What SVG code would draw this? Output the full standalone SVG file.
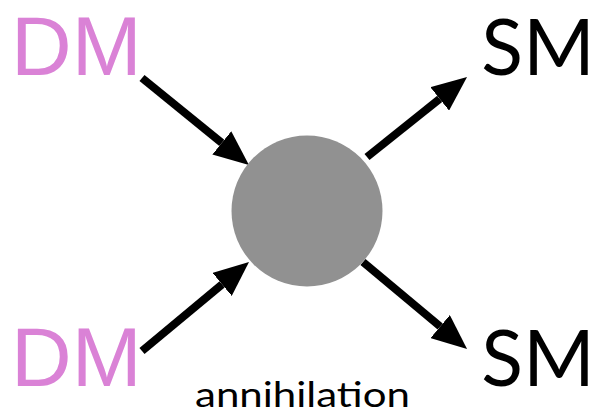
<svg xmlns="http://www.w3.org/2000/svg" width="594" height="419" viewBox="0 0 594 419">
  <style>
    .dm { font-family: "Liberation Sans", Arial, sans-serif; font-size: 84px; fill: #DA82D6; }
    .sm { font-family: "Lato", "Open Sans", sans-serif; font-size: 77px; fill: #000; }
    .lbl { font-family: "Lato", "Open Sans", sans-serif; font-size: 34px; fill: #000; }
    .conn { stroke: #000; stroke-width: 8; fill: none; marker-end: url(#head); }
  </style>
  <defs>
    <marker id="head" viewBox="0 0 35 30" refX="0" refY="15" markerWidth="35" markerHeight="30" markerUnits="userSpaceOnUse" orient="auto">
      <path d="M0,0 L35,15 L0,30 z" fill="#000"/>
    </marker>
  </defs>
  <rect width="594" height="419" fill="#fff"/>
  <g id="connectors">
    <line class="conn" x1="142" y1="78" x2="221.8" y2="142.9"/>
    <line class="conn" x1="367" y1="157" x2="439.7" y2="98.9"/>
    <line class="conn" x1="142" y1="351" x2="222.1" y2="284.4"/>
    <line class="conn" x1="363" y1="262" x2="440.2" y2="326.5"/>
  </g>
  <g id="vertex">
    <circle cx="307" cy="211" r="75.5" fill="#919191"/>
  </g>
  <g id="dm-top"><text class="dm" x="11" y="75">DM</text></g>
  <g id="dm-bottom"><text class="dm" x="11" y="386">DM</text></g>
  <g id="sm-top"><text class="sm" x="538" y="75" text-anchor="middle">SM</text></g>
  <g id="sm-bottom"><text class="sm" x="538" y="386" text-anchor="middle">SM</text></g>
  <g id="label"><text class="lbl" x="195" y="407" textLength="215" lengthAdjust="spacingAndGlyphs">annihilation</text></g>
</svg>
